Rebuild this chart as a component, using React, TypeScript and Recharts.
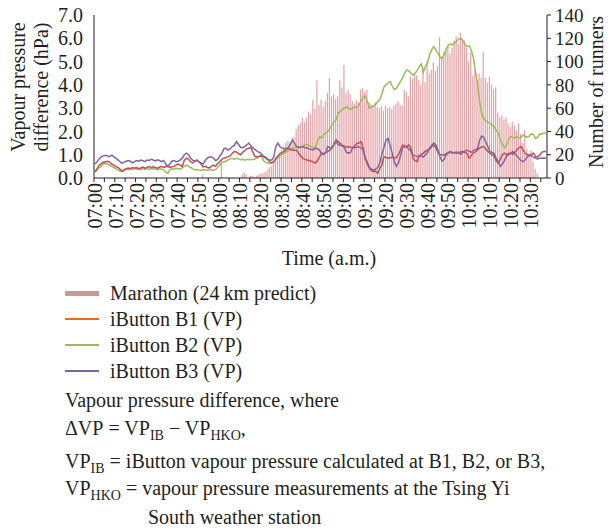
import React from 'react';
import { ComposedChart, Bar, Line, XAxis, YAxis } from 'recharts';

// iButton vapour pressure differences (hPa), one value per minute from 07:00
const b1 = [
  0.27, 0.4, 0.55, 0.62, 0.68, 0.7, 0.72, 0.68, 0.6, 0.55,
  0.5, 0.45, 0.38, 0.3, 0.36, 0.4, 0.43, 0.4, 0.45, 0.42,
  0.45, 0.4, 0.43, 0.47, 0.42, 0.45, 0.5, 0.44, 0.48, 0.45,
  0.42, 0.46, 0.5, 0.45, 0.48, 0.5, 0.45, 0.48, 0.5, 0.55,
  0.6, 0.55, 0.5, 0.77, 0.85, 0.8, 0.7, 0.65, 0.72, 0.78,
  0.7, 0.6, 0.48, 0.5, 0.45, 0.43, 0.5, 0.55, 0.5, 0.62,
  0.7, 0.8, 0.85, 0.88, 0.92, 0.95, 1.05, 1.14, 1.12, 1.05,
  1.0, 1.1, 1.17, 1.25, 1.28, 1.3, 1.1, 0.92, 0.9, 0.92,
  0.95, 0.92, 0.9, 0.8, 0.7, 0.64, 0.7, 0.85, 0.95, 1.05,
  1.1, 1.14, 1.22, 1.28, 1.22, 1.2, 1.18, 1.2, 1.05, 0.95,
  0.85, 0.8, 0.77, 0.75, 0.72, 0.68, 0.64, 0.75, 0.9, 1.07,
  1.05, 1.08, 1.14, 1.2, 1.3, 1.45, 1.63, 1.55, 1.48, 1.4,
  1.38, 1.32, 1.35, 1.32, 1.3, 1.38, 1.48, 1.5, 1.56, 1.3,
  0.85, 0.6, 0.43, 0.32, 0.27, 0.3, 0.2, 0.4, 0.56, 0.91,
  0.88, 0.85, 0.87, 0.9, 0.86, 0.88, 1.0, 1.2, 1.42, 1.38,
  1.35, 1.42, 1.3, 0.85, 0.75, 0.7, 0.95, 1.0, 1.07, 1.15,
  1.2, 1.25, 1.35, 1.42, 1.3, 1.1, 1.0, 1.0, 0.98, 1.05,
  1.1, 1.14, 1.1, 1.08, 1.05, 1.1, 1.12, 1.15, 1.1, 1.05,
  0.85, 0.95, 1.07, 1.12, 1.2, 1.28, 1.33, 1.35, 1.25, 1.15,
  1.07, 1.0, 0.95, 0.75, 0.64, 0.8, 1.0, 1.07, 1.0, 1.05,
  1.07, 1.02, 1.1, 1.2, 1.3, 1.35, 1.2, 1.05, 1.0, 0.95,
  1.0, 1.07, 0.92, 0.9, 0.98, 1.1, 1.14, 1.14,
];

const b2 = [
  0.25, 0.35, 0.45, 0.5, 0.6, 0.64, 0.6, 0.55, 0.5, 0.45,
  0.4, 0.35, 0.3, 0.27, 0.32, 0.38, 0.35, 0.4, 0.36, 0.42,
  0.38, 0.4, 0.35, 0.42, 0.38, 0.4, 0.36, 0.42, 0.38, 0.4,
  0.35, 0.4, 0.38, 0.36, 0.25, 0.2, 0.35, 0.4, 0.38, 0.42,
  0.4, 0.38, 0.45, 0.5, 0.55, 0.5, 0.45, 0.4, 0.35, 0.36,
  0.34, 0.33, 0.35, 0.34, 0.33, 0.34, 0.35, 0.33, 0.36, 0.45,
  0.55, 0.65, 0.7, 0.72, 0.78, 0.82, 0.85, 0.8, 0.85, 0.82,
  0.78, 0.8, 0.76, 0.8, 0.78, 0.8, 0.78, 0.82, 0.85, 0.95,
  0.99, 0.75, 0.68, 0.64, 0.62, 0.66, 0.7, 0.8, 0.86, 0.98,
  1.02, 1.08, 1.12, 1.18, 1.25, 1.28, 1.3, 1.32, 1.35, 1.33,
  1.38, 1.42, 1.45, 1.4, 1.35, 1.3, 1.27, 1.6, 1.77, 1.72,
  1.85, 1.93, 2.0, 2.1, 2.28, 2.4, 2.5, 2.79, 2.85, 2.95,
  3.0, 3.05, 3.0, 2.95, 3.0, 3.05, 3.02, 3.1, 3.3, 3.45,
  3.52, 3.3, 3.0, 3.05, 3.1, 3.15, 3.28, 3.35, 3.6, 3.9,
  4.0, 4.08, 4.15, 3.95, 3.8, 3.85, 4.0, 4.15, 4.3, 4.5,
  4.64, 4.6, 4.5, 4.42, 4.5, 4.6, 4.78, 4.9, 4.55, 4.8,
  4.93, 5.28, 5.5, 5.64, 5.5, 5.36, 5.2, 5.14, 5.3, 5.55,
  5.7, 5.75, 5.72, 5.8, 5.86, 5.97, 6.0, 5.9, 5.75, 5.64,
  5.68, 5.5, 5.2, 4.6, 4.1, 3.3, 2.8, 2.55, 2.45, 2.4,
  2.35, 2.28, 2.2, 2.06, 1.95, 1.65, 1.45, 1.3, 1.4, 1.65,
  1.78, 1.75, 1.72, 1.78, 1.7, 1.75, 1.85, 1.78, 1.75, 1.8,
  1.9, 1.85, 1.7, 1.75, 1.9, 1.88, 1.93, 1.93,
];

const b3 = [
  0.6, 0.7, 0.82, 0.91, 0.95, 0.98, 0.95, 0.92, 0.98, 0.92,
  0.85, 0.78, 0.7, 0.63, 0.68, 0.72, 0.75, 0.72, 0.65, 0.7,
  0.75, 0.72, 0.77, 0.74, 0.7, 0.77, 0.75, 0.8, 0.77, 0.73,
  0.78, 0.75, 0.7, 0.75, 0.6, 0.5, 0.6, 0.72, 0.75, 0.7,
  0.72, 0.78, 0.85, 1.0, 1.07, 1.0, 0.85, 0.77, 0.72, 0.75,
  0.7, 0.65, 0.6, 0.75, 0.85, 0.9, 0.91, 0.85, 0.75, 0.8,
  0.95, 1.05, 1.25, 1.28, 1.2, 1.25, 1.35, 1.4, 1.56, 1.45,
  1.32, 1.3, 1.35, 1.42, 1.5, 1.38, 1.28, 1.23, 1.15, 1.1,
  1.05, 0.95, 0.85, 0.8, 0.77, 0.77, 0.9, 1.35, 1.5, 1.35,
  1.28, 1.25, 1.27, 1.3, 1.45, 1.63, 1.5, 1.35, 1.3, 1.32,
  1.35, 1.3, 1.3, 1.25, 1.22, 1.2, 1.28, 1.25, 1.2, 1.05,
  1.0, 1.1, 1.35, 1.3, 1.3, 1.45, 1.56, 1.43, 1.4, 1.38,
  1.3, 1.1, 1.07, 1.1, 1.3, 1.3, 1.32, 1.35, 1.3, 1.2,
  0.85, 0.7, 0.45, 0.38, 0.34, 0.38, 0.45, 0.64, 1.0, 1.3,
  1.63, 1.7, 1.4, 1.07, 0.7, 0.5, 0.65, 0.95, 1.3, 1.35,
  1.32, 1.25, 1.15, 1.0, 0.95, 0.92, 0.93, 0.95, 0.9, 1.0,
  1.1, 1.28, 1.4, 1.5, 1.42, 1.2, 0.9, 0.72, 0.8, 1.0,
  1.07, 1.1, 1.07, 1.1, 1.12, 1.08, 1.02, 1.1, 1.15, 1.2,
  1.15, 1.1, 1.18, 1.22, 1.25, 1.6, 1.8, 1.75, 1.55, 1.35,
  1.14, 1.1, 1.05, 0.85, 0.7, 0.5, 0.6, 0.75, 0.93, 1.0,
  1.05, 1.14, 1.05, 0.95, 0.85, 0.75, 0.7, 0.78, 0.9, 1.0,
  0.95, 0.9, 0.85, 0.82, 0.85, 0.85, 0.86, 0.85,
];

// predicted runners passing (24 km), per minute
const runners = [
  0, 0, 0, 0, 0, 0, 0, 0, 0, 0,
  0, 0, 0, 0, 0, 0, 0, 0, 0, 0,
  0, 0, 0, 0, 0, 0, 0, 0, 0, 0,
  0, 0, 0, 0, 0, 0, 0, 0, 0, 0,
  0, 0, 0, 0, 0, 0, 0, 0, 0, 0,
  0, 0, 3, 0, 0, 0, 0, 0, 0, 0,
  0, 15, 0, 0, 0, 0, 0, 0, 0, 0,
  0, 3, 5, 3, 0, 2, 2, 1, 2, 3,
  4, 4, 5, 7, 9, 10, 14, 16, 19, 21,
  24, 27, 30, 32, 31, 34, 35, 42, 45, 47,
  52, 48, 52, 57, 55, 67, 60, 84, 63, 67,
  61, 66, 73, 86, 70, 72, 68, 70, 84, 78,
  97, 73, 76, 72, 66, 64, 67, 65, 76, 77,
  74, 76, 65, 64, 62, 65, 61, 60, 62, 58,
  62, 60, 61, 59, 62, 64, 66, 63, 62, 76,
  74, 70, 87, 85, 90, 88, 84, 80, 95, 82,
  101, 90, 93, 99, 92, 96, 121, 104, 108, 110,
  114, 107, 112, 118, 122, 115, 125, 120, 118, 112,
  100, 108, 88, 93, 84, 90, 86, 108, 86, 82,
  87, 80, 76, 78, 56, 52, 54, 50, 52, 47,
  44, 48, 45, 41, 47, 38, 30, 41, 25, 21,
  24, 14, 8, 4, 0, 0, 0, 0,
];

const leftTicks = [0, 1, 2, 3, 4, 5, 6, 7];
const rightTicks = [0, 20, 40, 60, 80, 100, 120, 140];

const pad = (n: number) => String(n).padStart(2, '0');
const times = runners.map((_, i) => {
  const t = 7 * 60 + i;
  return `${pad(Math.floor(t / 60))}:${pad(t % 60)}`;
});

const rows = times.map((t, i) => ({
  t,
  runners: runners[i],
  b1: b1[i],
  b2: b2[i],
  b3: b3[i],
}));

const FONT = '"Liberation Serif", "Times New Roman", serif';
const INK = '#231f20';

function TimeTick({ x, y, payload }: any) {
  const label = String(payload.value);
  const half = 452.7 / rows.length / 2;
  return (
    <g>
      <line x1={x - half} x2={x - half} y1={y} y2={y + 4} stroke={INK} strokeWidth={1} />
      {label.endsWith('0') && (
        <text
          x={x}
          y={y + 5}
          transform={`rotate(-90, ${x}, ${y + 5})`}
          textAnchor="end"
          dominantBaseline="central"
          fontFamily={FONT}
          fontSize={20}
          fill={INK}
        >
          {label}
        </text>
      )}
    </g>
  );
}

const legendRows = [
  { label: 'Marathon (24\u2009km predict)', color: '#d39494', h: 5 },
  { label: 'iButton B1 (VP)', color: '#e46c1a', h: 2 },
  { label: 'iButton B2 (VP)', color: '#9bbb59', h: 2 },
  { label: 'iButton B3 (VP)', color: '#8064a2', h: 2 },
];

export default function App() {
  const sub: React.CSSProperties = { fontSize: 14, verticalAlign: -5, lineHeight: 0 };
  const line = (top: number, left = 65): React.CSSProperties => ({
    position: 'absolute',
    top,
    left,
    whiteSpace: 'nowrap',
    lineHeight: '20px',
  });
  return (
    <div style={{ position: 'relative', width: 608, height: 529, background: '#fff', fontFamily: FONT, fontSize: 20, color: INK }}>
      <style>{'body{margin:0}'}</style>
      <ComposedChart
        width={608}
        height={250}
        data={rows}
        margin={{ top: 15, right: 11, bottom: 12, left: 14 }}
        style={{ position: 'absolute', left: 0, top: 0 }}
      >
        <XAxis
          dataKey="t"
          interval={4}
          height={60}
          tickLine={false}
          tickSize={0}
          tickMargin={0}
          axisLine={{ stroke: INK }}
          tick={<TimeTick />}
        />
        <YAxis
          yAxisId="vp"
          width={80}
          domain={[0, 7]}
          ticks={leftTicks}
          interval={0}
          tickFormatter={(v: number) => v.toFixed(1)}
          axisLine={{ stroke: INK }}
          tickLine={false}
          tickSize={8}
          tickMargin={3}
          tick={{ fontFamily: FONT, fontSize: 20, fill: INK }}
        />
        <YAxis
          yAxisId="run"
          orientation="right"
          width={50}
          domain={[0, 140]}
          ticks={rightTicks}
          interval={0}
          axisLine={{ stroke: INK }}
          tickLine={{ stroke: INK }}
          tickSize={4}
          tickMargin={4}
          tick={{ fontFamily: FONT, fontSize: 19, fill: INK, textAnchor: 'start' }}
        />
        <Bar yAxisId="run" dataKey="runners" fill="#d9777e" fillOpacity={0.7} barSize={1.2} isAnimationActive={false} />
        <Line yAxisId="vp" type="linear" dataKey="b2" stroke="#9bbb59" strokeWidth={1.5} dot={false} isAnimationActive={false} />
        <Line yAxisId="vp" type="linear" dataKey="b1" stroke="#c0504d" strokeWidth={1.5} dot={false} isAnimationActive={false} />
        <Line yAxisId="vp" type="linear" dataKey="b3" stroke="#8064a2" strokeWidth={1.5} dot={false} isAnimationActive={false} />
      </ComposedChart>

      <svg width={608} height={270} style={{ position: 'absolute', left: 0, top: 0, pointerEvents: 'none' }}>
        <g fontFamily={FONT} fontSize={20} fill={INK} textAnchor="middle" dominantBaseline="central">
          <text transform="translate(18,87) rotate(-90)">Vapour pressure</text>
          <text transform="translate(41,87) rotate(-90)">difference (hPa)</text>
          <text transform="translate(596,92) rotate(-90)">Number of runners</text>
          <text x={329} y={258}>Time (a.m.)</text>
        </g>
      </svg>

      {legendRows.map((r, i) => (
        <div key={r.label} style={line(283 + i * 26)}>
          <span
            style={{
              position: 'absolute',
              left: 0,
              top: 10 - r.h / 2,
              width: 34,
              height: r.h,
              background: r.color,
            }}
          />
          <span style={{ position: 'absolute', left: 45 }}>{r.label}</span>
        </div>
      ))}

      <div style={line(390)}>Vapour pressure difference, where</div>
      <div style={line(418)}>
        ΔVP&nbsp;= VP<sub style={sub}>IB</sub>&nbsp;− VP<sub style={sub}>HKO</sub>,
      </div>
      <div style={line(451)}>
        VP<sub style={sub}>IB</sub>&nbsp;= iButton vapour pressure calculated at B1, B2, or B3,
      </div>
      <div style={line(478)}>
        VP<sub style={sub}>HKO</sub>&nbsp;= vapour pressure measurements at the Tsing Yi
      </div>
      <div style={line(507, 148)}>South weather station</div>
    </div>
  );
}
